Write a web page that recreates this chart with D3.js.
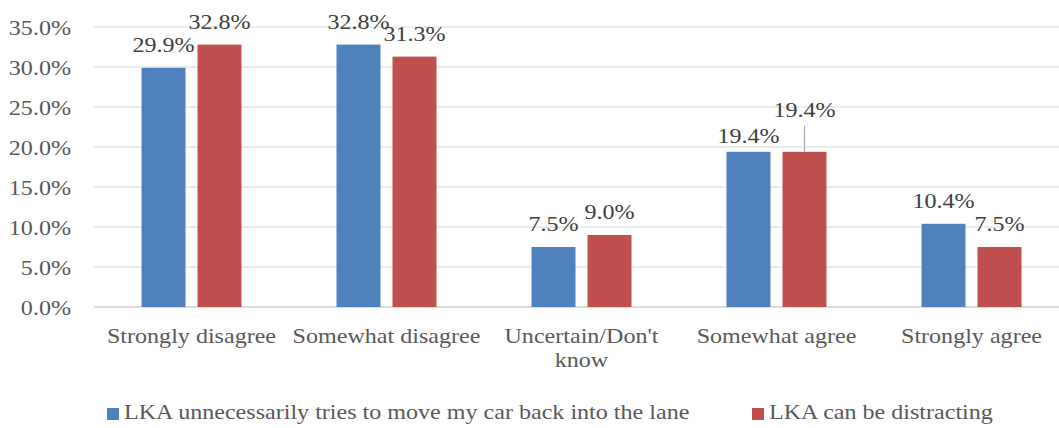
<!DOCTYPE html>
<html><head><meta charset="utf-8">
<script src="https://cdn.jsdelivr.net/npm/d3@7"></script>
<style>body{margin:0;background:#fff}svg{display:block}text{font-family:"Liberation Serif","Times New Roman",serif}</style>
</head><body><svg id="c" width="1059" height="428"></svg>
<script>
const categories = ["Strongly disagree","Somewhat disagree","Uncertain/Don't know","Somewhat agree","Strongly agree"];
const seriesNames = ["LKA unnecessarily tries to move my car back into the lane","LKA can be distracting"];
const seriesA = [29.9, 32.8, 7.5, 19.4, 10.4];
const seriesB = [32.8, 31.3, 9.0, 19.4, 7.5];
const yTicks = [0,5,10,15,20,25,30,35];
const colors = ["#4f81bd","#c0504d"];

const FS = 21.5, SX = 1.12;
const svg = d3.select("#c");
const m = {left:94, right:1069, top:27, bottom:307};
const x = d3.scaleBand().domain(categories).range([m.left, m.right]);
const y = d3.scaleLinear().domain([0,35]).range([m.bottom, m.top]);
const barW = 44, gap = 12;

function txt(g, tx, ty, s, anchor, fill) {
  return g.append("text").attr("transform",`translate(${tx},${ty}) scale(${SX},1)`)
    .attr("text-anchor",anchor).attr("font-size",FS).attr("fill",fill).text(s);
}

// gridlines
svg.append("g").selectAll("line").data(yTicks).join("line")
  .attr("x1", m.left).attr("x2", m.right)
  .attr("y1", d=>y(d)).attr("y2", d=>y(d))
  .attr("stroke", d=> d===0 ? "#d0d0d0" : "#d9d9d9").attr("stroke-width", d=> d===0?1.5:1);

// y labels
const ya = svg.append("g");
yTicks.forEach(t=> txt(ya, 71, y(t)+8, t.toFixed(1)+"%", "end", "#595959"));

const series = [seriesA, seriesB];
series.forEach((vals, si) => {
  const xo = si===0 ? -(gap/2+barW) : gap/2;
  svg.append("g").selectAll("rect").data(vals).join("rect")
    .attr("x",(d,i)=>x(categories[i])+x.bandwidth()/2+xo)
    .attr("y",d=>y(d)).attr("width",barW).attr("height",d=>y(0)-y(d))
    .attr("fill",colors[si]);
});

// value labels
const labelLift = [[16,16,16,9,16],[16,16,16,35,16]];
series.forEach((vals, si) => {
  const xo = si===0 ? -(gap/2+barW/2) : gap/2+barW/2;
  const g = svg.append("g");
  vals.forEach((d,i)=>{
    const cx = x(categories[i])+x.bandwidth()/2+xo;
    const lift = labelLift[si][i];
    if (lift > 20) {
      g.append("line").attr("x1",cx).attr("x2",cx).attr("y1",y(d)-lift+9).attr("y2",y(d))
        .attr("stroke","#a6a6a6").attr("stroke-width",1.2);
    }
    txt(g, cx, y(d)-lift, d.toFixed(1)+"%", "middle", "#404040");
  });
});

// x labels
const xl = svg.append("g");
categories.forEach(c=>{
  const cx = x(c)+x.bandwidth()/2;
  const lines = c==="Uncertain/Don't know" ? ["Uncertain/Don't","know"] : [c];
  lines.forEach((t,k)=> txt(xl, cx, 343+k*24, t, "middle", "#595959"));
});

// legend
const leg = [{x:107},{x:752}];
leg.forEach((l,i)=>{
  svg.append("rect").attr("x",l.x).attr("y",408).attr("width",12).attr("height",12).attr("fill",colors[i]);
  txt(svg, l.x+17, 419, seriesNames[i], "start", "#595959");
});
</script></body></html>
